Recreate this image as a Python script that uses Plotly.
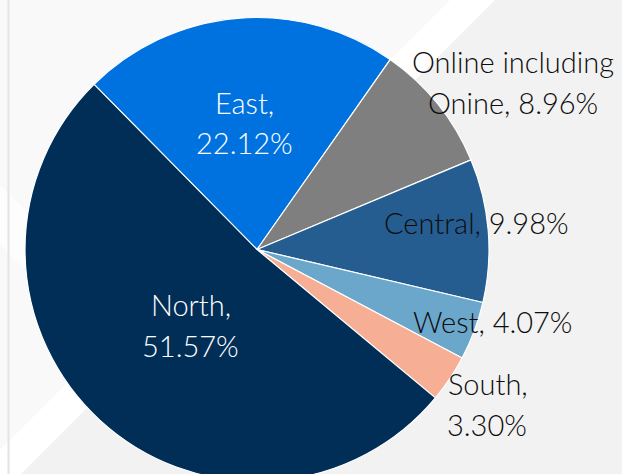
import plotly.graph_objects as go

# ---- data ----
regions = ["East", "Online including Onine", "Central", "West", "South", "North"]
shares = [22.12, 8.96, 9.98, 4.07, 3.30, 51.57]
label_lines = [
    ["East,", "22.12%"],
    ["Online including", "Onine, 8.96%"],
    ["Central, 9.98%"],
    ["West, 4.07%"],
    ["South,", "3.30%"],
    ["North,", "51.57%"],
]
colors = ["#0072DF", "#7F7F7F", "#255D91", "#6BA6CB", "#F6AF95", "#002E57"]
text_colors = ["#FFFFFF", "#0D0D0D", "#0D0D0D", "#0D0D0D", "#0D0D0D", "#FFFFFF"]

# ---- layout constants (pixels) ----
W, H = 622, 490
PIE_LEFT, PIE_RIGHT, PIE_TOP, PIE_BOTTOM = 25, 489, 17.5, 481.5
# label line centres (x, y of each line) in pixels
label_pos = [
    [(244, 102), (244, 143)],
    [(513, 62), (513, 102)],
    [(476, 222)],
    [(492, 321)],
    [(488, 383), (487, 424)],
    [(191, 304), (190, 345)],
]
FONT = "Lato"
FSIZE = 29


def fx(x):
    return x / W


def fy(y):
    return 1 - y / H


fig = go.Figure()
fig.add_trace(go.Pie(
    labels=regions,
    values=shares,
    sort=False,
    direction="clockwise",
    rotation=-44.6,
    marker=dict(colors=colors, line=dict(color="#FFFFFF", width=1.2)),
    textinfo="none",
    hoverinfo="label+percent",
    showlegend=False,
    domain=dict(x=[fx(PIE_LEFT), fx(PIE_RIGHT)], y=[fy(PIE_BOTTOM), fy(PIE_TOP)]),
))

annotations = []
for lines, poss, tc in zip(label_lines, label_pos, text_colors):
    for txt, (x, y) in zip(lines, poss):
        annotations.append(dict(
            x=fx(x), y=fy(y), xref="paper", yref="paper",
            text=txt, showarrow=False, xanchor="center", yanchor="middle",
            font=dict(family=FONT, size=FSIZE, color=tc, weight=300),
        ))


def path(points):
    return "M " + " L ".join(f"{fx(x)},{fy(y)}" for x, y in points) + " Z"


shapes = [
    # white diagonal band
    dict(type="path", xref="paper", yref="paper", layer="below",
         path=path([(450, 0), (495, 0), (0, 495), (0, 450)]),
         fillcolor="#FFFFFF", line=dict(width=0)),
    # light grey lower-right region
    dict(type="path", xref="paper", yref="paper", layer="below",
         path=path([(495, 0), (W, 0), (W, H), (0, H), (0, 495)]),
         fillcolor="#F2F2F2", line=dict(width=0)),
    # faint band on the left
    dict(type="path", xref="paper", yref="paper", layer="below",
         path=path([(0, 185), (0, 245), (80, 325), (80, 265)]),
         fillcolor="#FDFDFD", line=dict(width=0)),
    # vertical rule
    dict(type="line", xref="paper", yref="paper", layer="below",
         x0=fx(8.5), x1=fx(8.5), y0=0, y1=1,
         line=dict(color="#E4E4E4", width=2)),
]

fig.update_layout(
    width=W, height=H,
    margin=dict(l=0, r=0, t=0, b=0),
    paper_bgcolor="#F9F9F9",
    plot_bgcolor="rgba(0,0,0,0)",
    annotations=annotations,
    shapes=shapes,
)

fig.write_html(
    "out.html",
    config={"displayModeBar": False},
    post_script="document.body.style.margin='0';document.body.style.overflow='hidden';",
)
